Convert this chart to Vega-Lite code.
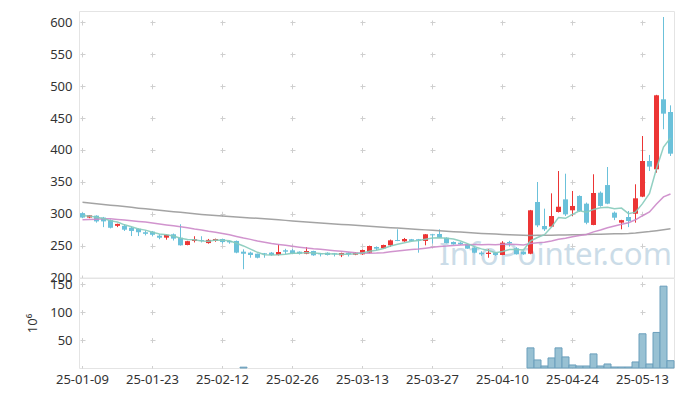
{
  "$schema": "https://vega.github.io/schema/vega-lite/v6.json",
  "padding": {"left": 26, "top": 10, "right": 8, "bottom": 0},
  "spacing": 0,
  "bounds": "flush",
  "resolve": {"scale": {"x": "shared"}},
  "config": {
    "view": {"stroke": "#e4e4e4"},
    "font": "Noto Sans",
    "axis": {"labelFont": "Noto Sans", "labelFontSize": 13, "labelColor": "#333333", "ticks": false, "domain": false, "gridColor": "#cfcfcf", "gridWidth": 1, "titleFont": "Noto Sans", "labelOverlap": false}
  },
  "data": {"values": [
    {"d":"25-01-09","o":301,"h":302,"l":293,"c":294,"m5":297,"m20":290.5,"mg":318,"v":0},
    {"d":"25-01-10","o":294,"h":298,"l":293,"c":297.5,"m5":296.3,"m20":291,"mg":317,"v":0},
    {"d":"25-01-13","o":297,"h":297.5,"l":286,"c":288,"m5":294.5,"m20":291.5,"mg":315.8,"v":0},
    {"d":"25-01-14","o":294,"h":295,"l":279,"c":288,"m5":292.5,"m20":292,"mg":314.6,"v":0},
    {"d":"25-01-15","o":290,"h":291,"l":277,"c":278,"m5":289.1,"m20":292,"mg":313.5,"v":0},
    {"d":"25-01-16","o":281,"h":284.5,"l":279,"c":284,"m5":287.1,"m20":291,"mg":312.4,"v":0},
    {"d":"25-01-17","o":281,"h":283.5,"l":273,"c":275,"m5":282.6,"m20":290,"mg":311.2,"v":0},
    {"d":"25-01-20","o":278,"h":280,"l":265,"c":273,"m5":279.6,"m20":289,"mg":310,"v":0},
    {"d":"25-01-21","o":276.5,"h":277,"l":265,"c":271,"m5":276.2,"m20":288,"mg":308.8,"v":0},
    {"d":"25-01-22","o":271,"h":274,"l":266,"c":268.5,"m5":274.3,"m20":287,"mg":307.7,"v":0},
    {"d":"25-01-23","o":272,"h":273,"l":264.5,"c":267,"m5":270.9,"m20":285.5,"mg":306.5,"v":0},
    {"d":"25-01-24","o":265.6,"h":268,"l":260,"c":262.4,"m5":268.4,"m20":284,"mg":305.4,"v":0},
    {"d":"25-01-31","o":262.5,"h":267.5,"l":259.3,"c":267,"m5":267.2,"m20":282.5,"mg":304.3,"v":0},
    {"d":"25-02-03","o":267.8,"h":269,"l":258,"c":261,"m5":265.2,"m20":281,"mg":303.2,"v":0},
    {"d":"25-02-04","o":262.4,"h":283.5,"l":250,"c":250.5,"m5":261.6,"m20":279.5,"mg":302.2,"v":0},
    {"d":"25-02-05","o":251,"h":257.5,"l":250.5,"c":257,"m5":259.6,"m20":278,"mg":301.1,"v":0},
    {"d":"25-02-06","o":257.3,"h":264.7,"l":255,"c":260,"m5":259.1,"m20":276,"mg":300,"v":0},
    {"d":"25-02-07","o":258.8,"h":264.7,"l":255,"c":257.3,"m5":257.2,"m20":274.5,"mg":299,"v":0},
    {"d":"25-02-10","o":254,"h":260.5,"l":253,"c":259,"m5":256.8,"m20":272.5,"mg":298.2,"v":0},
    {"d":"25-02-11","o":257.3,"h":261,"l":256,"c":260.4,"m5":258.7,"m20":270.9,"mg":297.4,"v":0},
    {"d":"25-02-12","o":260.4,"h":261,"l":253,"c":255.6,"m5":258.5,"m20":269,"mg":296.6,"v":0},
    {"d":"25-02-13","o":257.3,"h":258,"l":253,"c":255.1,"m5":257.5,"m20":266.9,"mg":295.8,"v":0},
    {"d":"25-02-14","o":257.3,"h":258,"l":238,"c":239,"m5":253.8,"m20":264.4,"mg":295,"v":0},
    {"d":"25-02-17","o":240.5,"h":244.2,"l":213,"c":237.3,"m5":249.5,"m20":261.9,"mg":294.2,"v":1.5},
    {"d":"25-02-18","o":239,"h":240.5,"l":231,"c":235.3,"m5":244.5,"m20":259.8,"mg":293.5,"v":0},
    {"d":"25-02-19","o":237.3,"h":237.5,"l":230,"c":231,"m5":239.5,"m20":257.1,"mg":292.8,"v":0},
    {"d":"25-02-20","o":238,"h":238.5,"l":231,"c":236.4,"m5":235.8,"m20":255.2,"mg":292,"v":0},
    {"d":"25-02-21","o":239,"h":240,"l":234,"c":235.3,"m5":235.1,"m20":253.3,"mg":291.2,"v":0},
    {"d":"25-02-24","o":235.3,"h":252,"l":234.5,"c":240,"m5":235.6,"m20":251.8,"mg":290.4,"v":0},
    {"d":"25-02-25","o":242.7,"h":245,"l":237,"c":240.5,"m5":236.6,"m20":250.4,"mg":289.6,"v":0},
    {"d":"25-02-26","o":242.7,"h":245,"l":236.5,"c":237.3,"m5":237.9,"m20":248.9,"mg":288.8,"v":0},
    {"d":"25-02-27","o":240.5,"h":241,"l":236,"c":237.3,"m5":238.1,"m20":247.6,"mg":288,"v":0},
    {"d":"25-02-28","o":237.3,"h":247.8,"l":236.5,"c":241.6,"m5":239.3,"m20":246.3,"mg":287.2,"v":0},
    {"d":"25-03-04","o":241.6,"h":242,"l":234,"c":234.8,"m5":238.3,"m20":245,"mg":286.4,"v":0},
    {"d":"25-03-05","o":238,"h":238.5,"l":233,"c":236.4,"m5":237.5,"m20":244.3,"mg":285.6,"v":0},
    {"d":"25-03-06","o":238.9,"h":239.5,"l":234.5,"c":235.3,"m5":237.1,"m20":243.2,"mg":284.8,"v":0},
    {"d":"25-03-07","o":238,"h":238.5,"l":233,"c":236.4,"m5":236.9,"m20":242.1,"mg":284,"v":0},
    {"d":"25-03-10","o":234.8,"h":239,"l":232,"c":238.4,"m5":236.3,"m20":241.1,"mg":283.3,"v":0},
    {"d":"25-03-11","o":238.9,"h":239.5,"l":233,"c":236.4,"m5":236.6,"m20":240,"mg":282.6,"v":0},
    {"d":"25-03-12","o":235.8,"h":239.5,"l":235,"c":238.9,"m5":237.1,"m20":238.9,"mg":281.8,"v":0},
    {"d":"25-03-13","o":236.4,"h":244,"l":235.5,"c":243.1,"m5":238.6,"m20":238.3,"mg":281,"v":0},
    {"d":"25-03-14","o":238.9,"h":250,"l":238,"c":249.4,"m5":241.2,"m20":238,"mg":280.3,"v":0},
    {"d":"25-03-17","o":247.8,"h":248.8,"l":243,"c":245.2,"m5":242.6,"m20":238.3,"mg":279.6,"v":0},
    {"d":"25-03-18","o":245.8,"h":251.5,"l":245,"c":251,"m5":245.5,"m20":239,"mg":278.9,"v":0},
    {"d":"25-03-19","o":250.5,"h":259.5,"l":248,"c":258.3,"m5":249.4,"m20":240.2,"mg":278.2,"v":0},
    {"d":"25-03-20","o":258.8,"h":275.6,"l":257,"c":257.3,"m5":252.2,"m20":241.5,"mg":277.5,"v":0},
    {"d":"25-03-21","o":256.7,"h":262,"l":256,"c":260.4,"m5":254.4,"m20":242.7,"mg":276.8,"v":0},
    {"d":"25-03-24","o":260,"h":260.5,"l":256.5,"c":257.3,"m5":256.9,"m20":243.8,"mg":276.1,"v":0},
    {"d":"25-03-25","o":260,"h":260.5,"l":238.9,"c":257.8,"m5":258.2,"m20":244.7,"mg":275.4,"v":0},
    {"d":"25-03-26","o":257.3,"h":268.2,"l":250.5,"c":267.8,"m5":260.1,"m20":246,"mg":274.7,"v":0},
    {"d":"25-03-27","o":267.8,"h":268.5,"l":253,"c":266.2,"m5":261.9,"m20":247.5,"mg":274,"v":0},
    {"d":"25-03-28","o":268.2,"h":275.6,"l":262,"c":262.4,"m5":262.3,"m20":248.7,"mg":273.3,"v":0},
    {"d":"25-03-31","o":262.4,"h":263,"l":253.5,"c":254.1,"m5":261.7,"m20":249.3,"mg":272.6,"v":0},
    {"d":"25-04-01","o":255.7,"h":256.5,"l":251.5,"c":252,"m5":260.5,"m20":250.2,"mg":271.9,"v":0},
    {"d":"25-04-02","o":254.6,"h":255.5,"l":251,"c":252,"m5":257.3,"m20":251,"mg":271.2,"v":0},
    {"d":"25-04-03","o":252,"h":252.5,"l":245,"c":245.2,"m5":253.1,"m20":251.5,"mg":270.5,"v":0},
    {"d":"25-04-04","o":246.7,"h":247.5,"l":238,"c":238.9,"m5":248.4,"m20":251.6,"mg":269.8,"v":0},
    {"d":"25-04-07","o":238.9,"h":241.2,"l":234,"c":236.4,"m5":244.9,"m20":251.5,"mg":269.1,"v":0},
    {"d":"25-04-08","o":236.9,"h":244.2,"l":231,"c":238.9,"m5":242.3,"m20":251.6,"mg":268.6,"v":0},
    {"d":"25-04-09","o":238.9,"h":239.5,"l":234,"c":235.3,"m5":238.9,"m20":251.5,"mg":268.1,"v":0},
    {"d":"25-04-10","o":235.3,"h":257,"l":235,"c":254.6,"m5":240.8,"m20":252,"mg":267.6,"v":0},
    {"d":"25-04-11","o":255.7,"h":257.5,"l":248.5,"c":253.6,"m5":243.8,"m20":252.2,"mg":267.1,"v":0},
    {"d":"25-04-14","o":245.8,"h":247.5,"l":236,"c":236.4,"m5":243.8,"m20":251.8,"mg":266.7,"v":0},
    {"d":"25-04-15","o":240.5,"h":241,"l":235.5,"c":236.4,"m5":243.3,"m20":251.1,"mg":266.3,"v":0},
    {"d":"25-04-16","o":237.3,"h":306,"l":236.5,"c":305.4,"m5":257.3,"m20":253.4,"mg":266,"v":36},
    {"d":"25-04-17","o":318.4,"h":349.8,"l":279,"c":281.8,"m5":262.7,"m20":254.6,"mg":266.1,"v":14.4},
    {"d":"25-04-18","o":280.8,"h":308,"l":273,"c":275.6,"m5":267.1,"m20":255.4,"mg":266.2,"v":3.6},
    {"d":"25-04-21","o":279.8,"h":332,"l":279,"c":296.5,"m5":279.1,"m20":257.4,"mg":266.4,"v":18},
    {"d":"25-04-22","o":302.7,"h":367,"l":302,"c":311,"m5":294.1,"m20":260,"mg":266.6,"v":36},
    {"d":"25-04-23","o":322.6,"h":362.8,"l":296.5,"c":299,"m5":292.8,"m20":261.6,"mg":266.8,"v":19.8},
    {"d":"25-04-24","o":305.4,"h":335.7,"l":296.5,"c":312.2,"m5":298.9,"m20":263.9,"mg":267,"v":5.4},
    {"d":"25-04-25","o":327.9,"h":328.9,"l":303,"c":304.3,"m5":304.6,"m20":266,"mg":267.2,"v":3.6},
    {"d":"25-04-28","o":315.8,"h":317.5,"l":283.5,"c":285.9,"m5":302.5,"m20":267.6,"mg":267.4,"v":3.6},
    {"d":"25-04-29","o":282.4,"h":361.9,"l":282,"c":332.5,"m5":306.8,"m20":271.6,"mg":267.7,"v":25.2},
    {"d":"25-04-30","o":333,"h":335,"l":311,"c":312.2,"m5":309.4,"m20":274.6,"mg":268,"v":3.6},
    {"d":"25-05-02","o":345,"h":373.3,"l":315,"c":315.8,"m5":310.1,"m20":278.1,"mg":268.3,"v":7.2},
    {"d":"25-05-07","o":301.7,"h":303.5,"l":290,"c":293.8,"m5":308,"m20":280.9,"mg":268.6,"v":1.8},
    {"d":"25-05-08","o":286,"h":290.5,"l":275.6,"c":290,"m5":308.9,"m20":283.6,"mg":268.8,"v":1.8},
    {"d":"25-05-09","o":294.9,"h":304.3,"l":279,"c":288.6,"m5":300.1,"m20":286,"mg":269.1,"v":1.8},
    {"d":"25-05-12","o":300,"h":346.2,"l":286,"c":324.2,"m5":302.5,"m20":290.5,"mg":269.8,"v":10.8},
    {"d":"25-05-13","o":326.8,"h":421.9,"l":326,"c":382.7,"m5":315.9,"m20":296.9,"mg":270.8,"v":61.2},
    {"d":"25-05-14","o":382.7,"h":392.2,"l":367,"c":373.9,"m5":331.9,"m20":302.9,"mg":272,"v":7.2},
    {"d":"25-05-15","o":369.7,"h":486.5,"l":364.4,"c":485.8,"m5":371,"m20":315.4,"mg":273.5,"v":63.6},
    {"d":"25-05-16","o":479.5,"h":608.6,"l":432.5,"c":457,"m5":404.7,"m20":326.4,"mg":275,"v":146.4},
    {"d":"25-05-19","o":459.6,"h":470,"l":390.6,"c":394.2,"m5":418.7,"m20":330.9,"mg":276.5,"v":13.1}
  ]},
  "vconcat": [
    {
      "width": 595,
      "height": 266.5,
      "encoding": {
        "x": {"field": "d", "type": "ordinal", "sort": "ascending",
          "scale": {"type": "band", "paddingInner": 0, "paddingOuter": 0},
          "axis": {"title": null, "labels": false, "grid": true, "bandPosition": 0.5, "gridDash": [5, 26.88], "gridDashOffset": 22.88, "minExtent": 0, "maxExtent": 0, "labelPadding": 0,
            "values": ["25-01-09","25-01-23","25-02-12","25-02-26","25-03-13","25-03-27","25-04-10","25-04-24","25-05-13"]}}
      },
      "layer": [
        {
          "transform": [{"filter": "datum.d == '25-04-21'"}],
          "mark": {"type": "text", "fontSize": 31.2, "color": "#c3d7e4", "opacity": 0.85, "font": "Noto Sans", "align": "center", "baseline": "middle", "dx": 4},
          "encoding": {"y": {"datum": 233, "type": "quantitative", "scale": {"domain": [200, 618], "nice": false, "zero": false},
              "axis": {"title": null, "values": [200,250,300,350,400,450,500,550,600], "labelPadding": 7, "grid": true, "gridDash": [5, 65], "gridDashOffset": 69}}, "text": {"value": "InfoPointer.com"}}
        },
        {
          "mark": {"type": "rule", "strokeWidth": 1},
          "encoding": {
            "y": {"field": "l", "type": "quantitative", "scale": {"domain": [200, 618], "nice": false, "zero": false},
              "axis": {"title": null, "values": [200,250,300,350,400,450,500,550,600], "labelPadding": 7, "grid": true, "gridDash": [5, 65], "gridDashOffset": 69}},
            "y2": {"field": "h"},
            "color": {"condition": {"test": "datum.c >= datum.o", "value": "#ec3535"}, "value": "#6bc1da"}
          }
        },
        {
          "mark": {"type": "bar", "size": 5},
          "encoding": {
            "y": {"field": "o", "type": "quantitative", "scale": {"domain": [200, 618], "nice": false, "zero": false},
              "axis": {"title": null, "values": [200,250,300,350,400,450,500,550,600], "labelPadding": 7, "grid": true, "gridDash": [5, 65], "gridDashOffset": 69}},
            "y2": {"field": "c"},
            "color": {"condition": {"test": "datum.c >= datum.o", "value": "#ec3535"}, "value": "#6bc1da"}
          }
        },
        {
          "mark": {"type": "line", "color": "#9a9a9a", "strokeWidth": 1.5, "opacity": 0.9},
          "encoding": {"y": {"field": "mg", "type": "quantitative", "scale": {"domain": [200, 618], "nice": false, "zero": false},
              "axis": {"title": null, "values": [200,250,300,350,400,450,500,550,600], "labelPadding": 7, "grid": true, "gridDash": [5, 65], "gridDashOffset": 69}}}
        },
        {
          "mark": {"type": "line", "color": "#cc88c9", "strokeWidth": 1.5, "opacity": 0.9},
          "encoding": {"y": {"field": "m20", "type": "quantitative", "scale": {"domain": [200, 618], "nice": false, "zero": false},
              "axis": {"title": null, "values": [200,250,300,350,400,450,500,550,600], "labelPadding": 7, "grid": true, "gridDash": [5, 65], "gridDashOffset": 69}}}
        },
        {
          "mark": {"type": "line", "color": "#86cbbb", "strokeWidth": 1.5, "opacity": 0.9},
          "encoding": {"y": {"field": "m5", "type": "quantitative", "scale": {"domain": [200, 618], "nice": false, "zero": false},
              "axis": {"title": null, "values": [200,250,300,350,400,450,500,550,600], "labelPadding": 7, "grid": true, "gridDash": [5, 65], "gridDashOffset": 69}}}
        }
      ]
    },
    {
      "width": 595,
      "height": 90,
      "transform": [{"filter": "datum.v > 0"}],
      "mark": {"type": "bar", "fill": "#98c1d3", "stroke": "#6b9fbc", "strokeWidth": 1},
      "encoding": {
        "x": {"field": "d", "type": "ordinal", "sort": "ascending",
          "axis": {"title": null, "labelAngle": 0, "labelPadding": 5, "grid": true, "bandPosition": 0.5, "gridDash": [5, 22.95], "gridDashOffset": 24.3,
            "values": ["25-01-09","25-01-23","25-02-12","25-02-26","25-03-13","25-03-27","25-04-10","25-04-24","25-05-13"]}},
        "y": {"field": "v", "type": "quantitative", "scale": {"domain": [0, 161], "nice": false},
          "axis": {"title": "10⁶", "titleFontSize": 13, "titleFontWeight": "normal", "titleColor": "#333333", "titlePadding": 10, "values": [50, 100, 150], "labelPadding": 7, "grid": true, "gridDash": [5, 65], "gridDashOffset": 69}}
      }
    }
  ]
}
